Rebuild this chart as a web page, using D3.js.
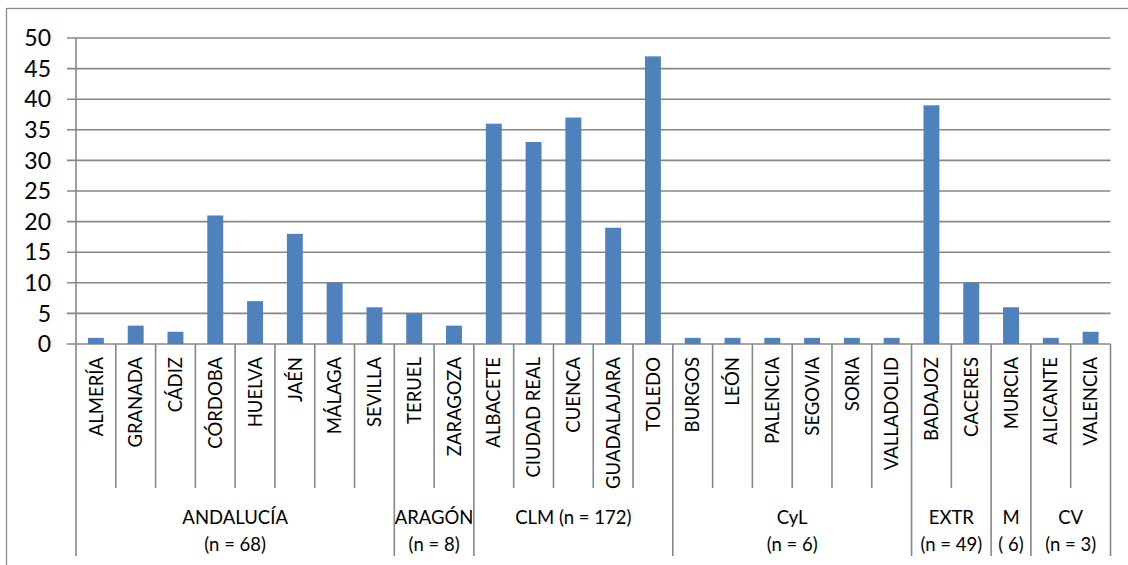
<!DOCTYPE html>
<html><head><meta charset="utf-8">
<script src="https://cdn.jsdelivr.net/npm/d3@7"></script>
<style>body{margin:0;background:#fff}svg{display:block}text{font-family:Lato,"Open Sans",sans-serif;fill:#000}</style>
</head><body><svg id="c" width="1128" height="565"></svg>
<script>
const categories = ["ALMERÍA","GRANADA","CÁDIZ","CÓRDOBA","HUELVA","JAÉN","MÁLAGA","SEVILLA","TERUEL","ZARAGOZA","ALBACETE","CIUDAD REAL","CUENCA","GUADALAJARA","TOLEDO","BURGOS","LEÓN","PALENCIA","SEGOVIA","SORIA","VALLADOLID","BADAJOZ","CACERES","MURCIA","ALICANTE","VALENCIA"];
const values = [1,3,2,21,7,18,10,6,5,3,36,33,37,19,47,1,1,1,1,1,1,39,10,6,1,2];
const groupNames = [["ANDALUCÍA","(n = 68)"],["ARAGÓN","(n = 8)"],["CLM (n = 172)"],["CyL","(n = 6)"],["EXTR","(n = 49)"],["M","( 6)"],["CV","(n = 3)"]];
const groupSizes = [8,2,5,6,2,1,2];
const yTicks = [0,5,10,15,20,25,30,35,40,45,50];

const svg = d3.select("#c");
const L = 76, R = 1110.5, T = 38, B = 344, BOT = 556, CATBOT = 488;
const grid = "#878787";
svg.append("rect").attr("x",6.5).attr("y",8.5).attr("width",1200).attr("height",600).attr("fill","none").attr("stroke","#8a8a8a").attr("stroke-width",1.3);

const x = d3.scaleBand().domain(categories).range([L,R]).paddingInner(0.6).paddingOuter(0.3);
const xc = d3.scaleBand().domain(categories).range([L,R]);
const y = d3.scaleLinear().domain([0,50]).range([B,T]);

svg.append("g").selectAll("line").data(yTicks).join("line")
  .attr("x1",67).attr("x2",R).attr("y1",d=>y(d)).attr("y2",d=>y(d))
  .attr("stroke",grid).attr("stroke-width",1.6);
svg.append("g").selectAll("text").data(yTicks).join("text")
  .attr("x",51).attr("y",d=>y(d)).attr("dy","0.36em").attr("text-anchor","end")
  .style("font-size","23px").text(d=>d);
svg.append("line").attr("x1",L).attr("x2",L).attr("y1",T).attr("y2",BOT).attr("stroke",grid).attr("stroke-width",1.6);

svg.append("g").selectAll("rect").data(categories).join("rect")
  .attr("x",d=>x(d)).attr("width",x.bandwidth())
  .attr("y",(d,i)=>y(values[i])).attr("height",(d,i)=>y(0)-y(values[i]))
  .attr("fill","#4f81bd");

const starts = [0]; groupSizes.forEach((s,i)=>starts.push(starts[i]+s));
const sepIdx = d3.range(1,categories.length+1);
svg.append("g").selectAll("line").data(sepIdx).join("line")
  .attr("x1",i=>L+i*xc.step()).attr("x2",i=>L+i*xc.step())
  .attr("y1",B).attr("y2",i=>starts.includes(i)?BOT:CATBOT)
  .attr("stroke",grid).attr("stroke-width",1.6);

svg.append("g").selectAll("text").data(categories).join("text")
  .attr("transform",d=>`translate(${xc(d)+xc.step()/2},357) rotate(-90)`)
  .attr("dy","0.36em").attr("text-anchor","end").style("font-size","18.5px").text(d=>d);

groupNames.forEach((g,i)=>{
  const cx = L + (starts[i]+starts[i+1])/2*xc.step();
  const t = svg.append("text").attr("x",cx).attr("y",524).attr("text-anchor","middle").style("font-size","18.5px");
  g.forEach((s,j)=>t.append("tspan").attr("x",cx).attr("y",524+j*27).text(s));
});
</script></body></html>
